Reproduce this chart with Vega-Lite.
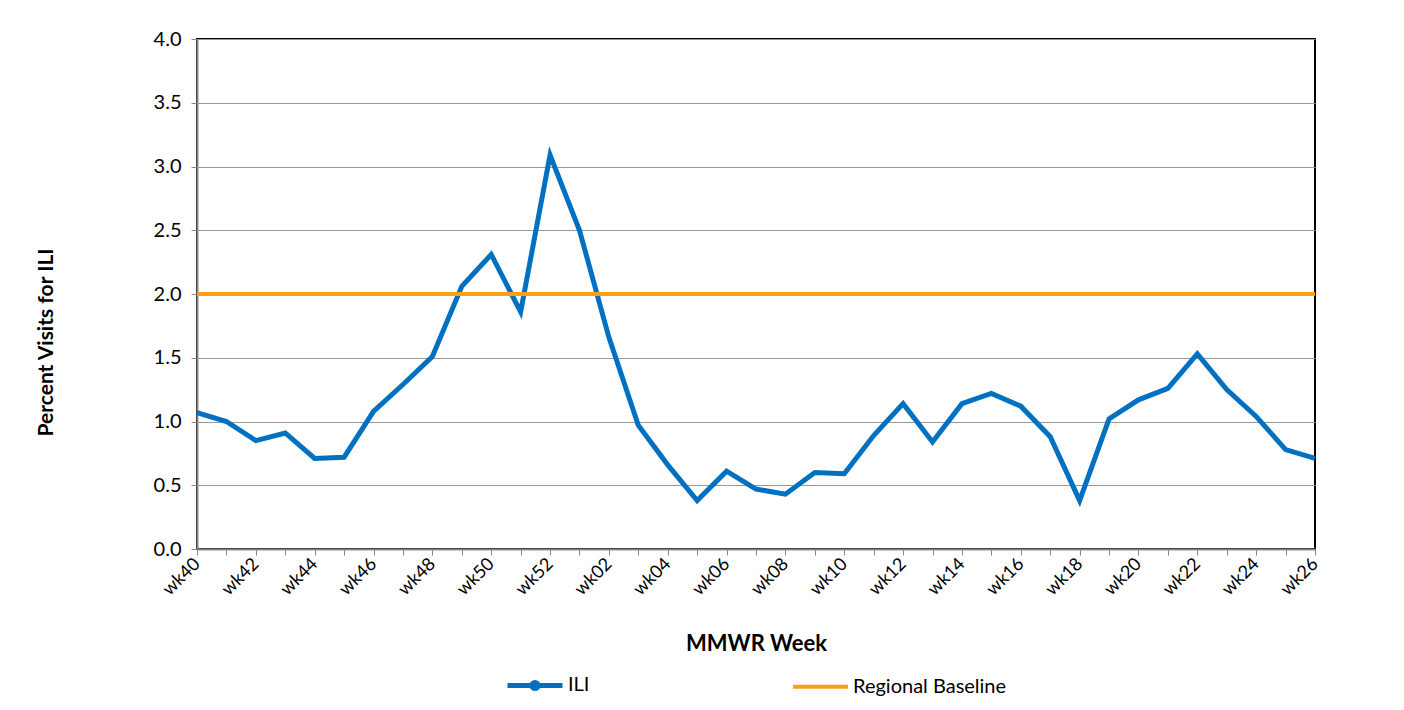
{
  "$schema": "https://vega.github.io/schema/vega-lite/v6.json",
  "autosize": "none",
  "width": 1118,
  "height": 510,
  "padding": {"left": 197, "top": 39, "right": 89, "bottom": 161},
  "background": "white",
  "config": {
    "font": "Lato",
    "view": {"stroke": "black", "strokeWidth": 2},
    "axis": {"labelFont": "Lato", "titleFont": "Lato", "labelColor": "black", "titleColor": "black"},
    "legend": {"labelFont": "Lato"}
  },
  "data": {
    "values": [
      {"week": "wk40", "ILI": 1.07, "Regional Baseline": 2.0},
      {"week": "wk41", "ILI": 1.00, "Regional Baseline": 2.0},
      {"week": "wk42", "ILI": 0.85, "Regional Baseline": 2.0},
      {"week": "wk43", "ILI": 0.91, "Regional Baseline": 2.0},
      {"week": "wk44", "ILI": 0.71, "Regional Baseline": 2.0},
      {"week": "wk45", "ILI": 0.72, "Regional Baseline": 2.0},
      {"week": "wk46", "ILI": 1.08, "Regional Baseline": 2.0},
      {"week": "wk47", "ILI": 1.29, "Regional Baseline": 2.0},
      {"week": "wk48", "ILI": 1.51, "Regional Baseline": 2.0},
      {"week": "wk49", "ILI": 2.06, "Regional Baseline": 2.0},
      {"week": "wk50", "ILI": 2.31, "Regional Baseline": 2.0},
      {"week": "wk51", "ILI": 1.86, "Regional Baseline": 2.0},
      {"week": "wk52", "ILI": 3.09, "Regional Baseline": 2.0},
      {"week": "wk01", "ILI": 2.50, "Regional Baseline": 2.0},
      {"week": "wk02", "ILI": 1.66, "Regional Baseline": 2.0},
      {"week": "wk03", "ILI": 0.97, "Regional Baseline": 2.0},
      {"week": "wk04", "ILI": 0.66, "Regional Baseline": 2.0},
      {"week": "wk05", "ILI": 0.38, "Regional Baseline": 2.0},
      {"week": "wk06", "ILI": 0.61, "Regional Baseline": 2.0},
      {"week": "wk07", "ILI": 0.47, "Regional Baseline": 2.0},
      {"week": "wk08", "ILI": 0.43, "Regional Baseline": 2.0},
      {"week": "wk09", "ILI": 0.60, "Regional Baseline": 2.0},
      {"week": "wk10", "ILI": 0.59, "Regional Baseline": 2.0},
      {"week": "wk11", "ILI": 0.89, "Regional Baseline": 2.0},
      {"week": "wk12", "ILI": 1.14, "Regional Baseline": 2.0},
      {"week": "wk13", "ILI": 0.84, "Regional Baseline": 2.0},
      {"week": "wk14", "ILI": 1.14, "Regional Baseline": 2.0},
      {"week": "wk15", "ILI": 1.22, "Regional Baseline": 2.0},
      {"week": "wk16", "ILI": 1.12, "Regional Baseline": 2.0},
      {"week": "wk17", "ILI": 0.88, "Regional Baseline": 2.0},
      {"week": "wk18", "ILI": 0.38, "Regional Baseline": 2.0},
      {"week": "wk19", "ILI": 1.02, "Regional Baseline": 2.0},
      {"week": "wk20", "ILI": 1.17, "Regional Baseline": 2.0},
      {"week": "wk21", "ILI": 1.26, "Regional Baseline": 2.0},
      {"week": "wk22", "ILI": 1.53, "Regional Baseline": 2.0},
      {"week": "wk23", "ILI": 1.25, "Regional Baseline": 2.0},
      {"week": "wk24", "ILI": 1.04, "Regional Baseline": 2.0},
      {"week": "wk25", "ILI": 0.78, "Regional Baseline": 2.0},
      {"week": "wk26", "ILI": 0.71, "Regional Baseline": 2.0}
    ]
  },
  "transform": [
    {"fold": ["ILI", "Regional Baseline"], "as": ["series", "value"]}
  ],
  "mark": {"type": "line", "strokeJoin": "miter"},
  "encoding": {
    "x": {
      "field": "week",
      "type": "ordinal",
      "sort": null,
      "scale": {"type": "point", "padding": 0},
      "axis": {
        "title": "MMWR Week",
        "titleFontSize": 22,
        "titleFontWeight": "bold",
        "titlePadding": 35,
        "labelAngle": -45,
        "labelAlign": "right",
        "labelBaseline": "middle",
        "labelFontSize": 18,
        "labelPadding": 6,
        "labelExpr": "indexof(['wk40','wk42','wk44','wk46','wk48','wk50','wk52','wk02','wk04','wk06','wk08','wk10','wk12','wk14','wk16','wk18','wk20','wk22','wk24','wk26'], datum.value) >= 0 ? datum.value : ''",
        "labelOverlap": false,
        "domainColor": "#888888",
        "domainWidth": 2,
        "tickColor": "#888888",
        "tickSize": 6,
        "grid": false
      }
    },
    "y": {
      "field": "value",
      "type": "quantitative",
      "scale": {"domain": [0, 4], "nice": false},
      "axis": {
        "title": "Percent Visits for ILI",
        "titleFontSize": 21,
        "titleFontWeight": "bold",
        "titlePadding": 97,
        "titleY": 303,
        "values": [0, 0.5, 1, 1.5, 2, 2.5, 3, 3.5, 4],
        "format": ".1f",
        "labelFontSize": 20,
        "labelPadding": 10,
        "domainColor": "#888888",
        "domainWidth": 2,
        "tickColor": "#888888",
        "tickSize": 6,
        "gridColor": "#999999",
        "gridWidth": 1.2
      }
    },
    "color": {
      "field": "series",
      "type": "nominal",
      "scale": {"domain": ["ILI", "Regional Baseline"], "range": ["#0070C0", "#FF9F14"]},
      "legend": {
        "title": null,
        "orient": "none",
        "direction": "horizontal",
        "legendX": 308,
        "legendY": 616,
        "symbolType": "stroke",
        "symbolSize": 3025,
        "symbolStrokeWidth": 5,
        "labelFontSize": 20,
        "labelColor": "black",
        "labelOffset": 3,
        "columnPadding": 195,
        "encode": {
          "symbols": {
            "update": {
              "shape": {"signal": "datum.value === 'ILI' ? 'M-1,0H1M0.11,0A0.11,0.11 0 1,1 -0.11,0A0.11,0.11 0 1,1 0.11,0Z' : 'M-1,0H1'"},
              "fill": {"signal": "datum.value === 'ILI' ? '#0070C0' : 'transparent'"},
              "stroke": {"signal": "datum.value === 'ILI' ? '#0070C0' : '#FF9F14'"},
              "strokeWidth": {"signal": "datum.value === 'ILI' ? 5 : 4"}
            }
          }
        }
      }
    },
    "strokeWidth": {
      "field": "series",
      "type": "nominal",
      "scale": {"domain": ["ILI", "Regional Baseline"], "range": [5, 4]},
      "legend": null
    }
  }
}
